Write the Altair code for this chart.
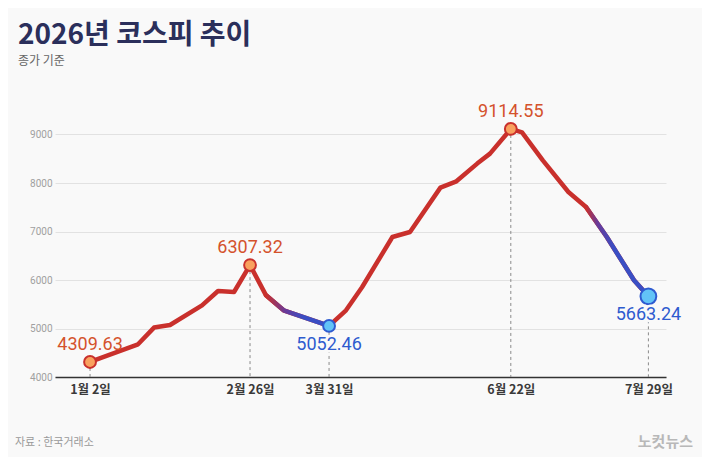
import altair as alt
import pandas as pd

# ---- data ----
steps = [0, 3, 4, 5, 7, 8, 9, 10, 11, 12.1, 14.94, 16, 17, 18.9, 20, 21.9, 22.9,
         24.2, 25, 26.3, 27, 28.3, 29.9, 31, 32.3, 34, 34.9]
values = [4309.63, 4674, 5019, 5072, 5478, 5773, 5753, 6307.32, 5684, 5375, 5052.46,
          5375, 5850, 6887, 6990, 7905, 8035, 8400, 8606, 9114.55, 9045, 8468, 7814,
          7505, 6887, 5994, 5663.24]

key_steps = [0, 10, 14.94, 26.3, 34.9]
key_dates = ["1월 2일", "2월 26일", "3월 31일", "6월 22일", "7월 29일"]
key_values = [4309.63, 6307.32, 5052.46, 9114.55, 5663.24]
key_kind = ["high", "high", "low", "high", "low"]

y_ticks = [4000, 5000, 6000, 7000, 8000, 9000]

title_text = "2026년 코스피 추이"
subtitle_text = "종가 기준"
source_text = "자료 : 한국거래소"
logo_text = "노컷뉴스"

# ---- tables ----
line_df = pd.DataFrame({"step": steps, "value": values})
key_df = pd.DataFrame({"step": key_steps, "value": key_values, "date": key_dates,
                       "kind": key_kind,
                       "label": [f"{v:.2f}" for v in key_values]})

BG = "#F9F9F9"
RED = "#C9302C"
PURPLE = "#6A3A98"
BLUE = "#3A4EC4"
NUM_FONT = "Roboto, sans-serif"
KR_FONT = "Noto Sans CJK KR"

label_expr = ""
for s, d in zip(key_steps, key_dates):
    label_expr += f"datum.value == {s} ? '{d}' : "
label_expr += "''"

x_enc = alt.X("step:Q",
              scale=alt.Scale(domain=[-2.19, 36], nice=False, zero=False),
              axis=alt.Axis(values=key_steps, labelExpr=label_expr, title=None,
                            grid=False, ticks=False, domain=True,
                            domainColor="#333333", domainWidth=1.5,
                            labelFont=KR_FONT, labelFontSize=12.5,
                            labelFontWeight="bold", labelColor="#3A3A3A",
                            labelPadding=6, labelFlush=False))
y_enc = alt.Y("value:Q",
              scale=alt.Scale(domain=[4000, 10000], nice=False, zero=False),
              axis=alt.Axis(values=y_ticks, format="d", title=None, grid=True,
                            gridColor="#E2E2E2", gridWidth=1, ticks=False,
                            domain=False, labelFont=NUM_FONT, labelFontSize=10,
                            labelColor="#A0A0A0", labelPadding=3))

base = alt.Chart(line_df)

dash = alt.Chart(key_df).transform_calculate(base="4000").mark_rule(
    color="#8A8A8A", strokeDash=[3, 3], strokeWidth=1
).encode(x=x_enc, y=y_enc, y2="base:Q")

main_line = base.mark_line(color=RED, strokeWidth=4.5, strokeCap="round",
                           strokeJoin="round").encode(x=x_enc, y=y_enc)

grad1 = alt.Chart(line_df).transform_filter(
    "datum.step >= 11 && datum.step <= 14.94"
).mark_line(
    strokeWidth=4.5, strokeCap="round", strokeJoin="round",
    color=alt.Gradient(gradient="linear", x1=0, x2=1, y1=0, y2=0,
                       stops=[alt.GradientStop(offset=0, color=RED),
                              alt.GradientStop(offset=0.3, color=PURPLE),
                              alt.GradientStop(offset=0.6, color=BLUE),
                              alt.GradientStop(offset=1, color=BLUE)])
).encode(x=x_enc, y=y_enc)

grad2 = alt.Chart(line_df).transform_filter(
    "datum.step >= 31"
).mark_line(
    strokeWidth=4.5, strokeCap="round", strokeJoin="round",
    color=alt.Gradient(gradient="linear", x1=0, x2=1, y1=0, y2=0,
                       stops=[alt.GradientStop(offset=0, color=RED),
                              alt.GradientStop(offset=0.18, color=PURPLE),
                              alt.GradientStop(offset=0.45, color=BLUE),
                              alt.GradientStop(offset=1, color=BLUE)])
).encode(x=x_enc, y=y_enc)

is_last = "datum.date == '" + key_dates[-1] + "'"
markers = alt.Chart(key_df).mark_point(filled=True, shape="circle", strokeWidth=2,
                                       opacity=1).encode(
    x=x_enc, y=y_enc,
    fill=alt.condition("datum.kind == 'high'", alt.value("#F9A15E"), alt.value("#62C3F7")),
    stroke=alt.condition("datum.kind == 'high'", alt.value(RED), alt.value("#2E5BD0")),
    size=alt.condition(is_last, alt.value(250), alt.value(140)),
)

hi_text = alt.Chart(key_df).transform_filter("datum.kind == 'high'").mark_text(
    font=NUM_FONT, fontSize=18, color="#D4522C", baseline="alphabetic",
    align="center", dy=-12
).encode(x=x_enc, y=y_enc, text="label:N")

lo_halo = alt.Chart(key_df).transform_filter("datum.kind == 'low'").mark_text(
    font=NUM_FONT, fontSize=18, color=BG, stroke=BG, strokeWidth=5,
    baseline="top", align="center", dy=10
).encode(x=x_enc, y=y_enc, text="label:N")

lo_text = alt.Chart(key_df).transform_filter("datum.kind == 'low'").mark_text(
    font=NUM_FONT, fontSize=18, color="#2E5BCF", baseline="top",
    align="center", dy=10
).encode(x=x_enc, y=y_enc, text="label:N")

src = alt.Chart(pd.DataFrame({"t": [source_text]})).mark_text(
    font=KR_FONT, fontSize=11, color="#9A9A9A", align="left", baseline="middle"
).encode(x=alt.value(-40), y=alt.value(357), text="t:N")

logo = alt.Chart(pd.DataFrame({"t": [logo_text]})).mark_text(
    font=KR_FONT, fontSize=15, fontWeight="bold", color="#B8B8B8",
    align="right", baseline="middle"
).encode(x=alt.value(638), y=alt.value(356), text="t:N")

chart = alt.layer(
    dash, main_line, grad1, grad2, markers, hi_text, lo_halo, lo_text, src, logo
).properties(
    width=611, height=291,
    background=BG,
    padding={"left": 47, "top": 78, "right": 36, "bottom": 80},
    autosize=alt.AutoSizeParams(type="none"),
    title=alt.TitleParams(
        text=title_text, subtitle=subtitle_text, anchor="start", frame="group",
        dx=-37, offset=19, font=KR_FONT, fontSize=28, fontWeight="bold",
        color="#2B2F5B", subtitleFont=KR_FONT, subtitleFontSize=12,
        subtitleColor="#666666", subtitlePadding=6
    )
).configure_view(stroke=None)

chart.save("out.html", embed_options={"renderer": "svg", "actions": False})
